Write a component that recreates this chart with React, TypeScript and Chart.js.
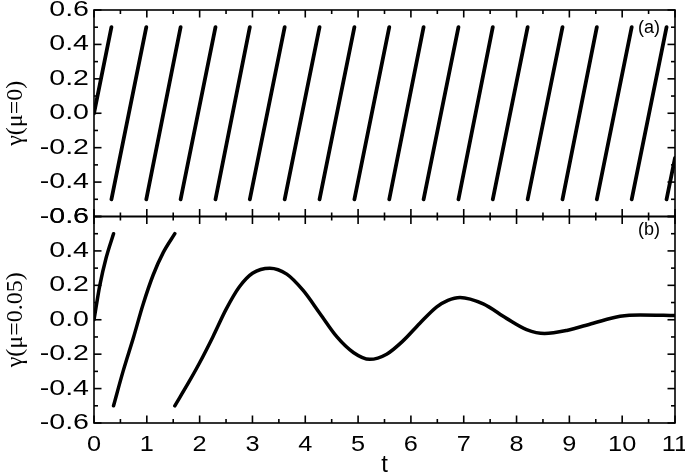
import React, { useEffect, useRef } from "react";
import Chart from "chart.js/auto";

// ejes
const X_MIN = 0;
const X_MAX = 11;
const Y_MIN = -0.6;
const Y_MAX = 0.6;
const xTickValues = [0, 1, 2, 3, 4, 5, 6, 7, 8, 9, 10, 11];
const yTickValues = [-0.6, -0.4, -0.2, 0, 0.2, 0.4, 0.6];

// panel (a): gamma(mu=0) sube linealmente y salta de +0.5 a -0.5 en estos t
const wrapTimesA = [0.33, 0.99, 1.64, 2.3, 2.95, 3.61, 4.27, 4.93, 5.59, 6.24, 6.9, 7.55, 8.21, 8.87, 9.52, 10.18, 10.84];
const startA = [0, 0]; // [t, gamma]
const endA = [11, -0.26];
const gammaLow = -0.5;
const gammaHigh = 0.5;

// panel (b): gamma(mu=0.05), tres ramas
const tB1 = [0, 0.11, 0.23, 0.37];
const gB1 = [0, 0.2, 0.36, 0.5];
const tB2 = [0.37, 0.55, 0.75, 0.93, 1.12, 1.31, 1.53];
const gB2 = [-0.5, -0.3, -0.1, 0.09, 0.26, 0.39, 0.5];
const tB3 = [1.53, 1.8, 2.0, 2.25, 2.5, 2.75, 3.0, 3.33, 3.65, 3.96, 4.28, 4.6, 4.91, 5.22, 5.54, 5.86, 6.17, 6.49, 6.7, 6.93, 7.37, 7.81, 8.19, 8.53, 8.95, 9.45, 9.96, 10.34, 11];
const gB3 = [-0.5, -0.36, -0.25, -0.1, 0.06, 0.19, 0.27, 0.3, 0.265, 0.17, 0.035, -0.1, -0.19, -0.23, -0.2, -0.12, -0.02, 0.075, 0.113, 0.13, 0.092, 0.008, -0.057, -0.08, -0.062, -0.02, 0.02, 0.028, 0.025];

type Pt = { x: number; y: number | null };

const branch = (ts: number[], gs: number[]): Pt[] => ts.map((t, i) => ({ x: t, y: gs[i] }));

const buildSeriesA = (): Pt[] => {
  const pts: Pt[] = [{ x: startA[0], y: startA[1] }];
  wrapTimesA.forEach((t) => {
    pts.push({ x: t, y: gammaHigh }, { x: t, y: null }, { x: t, y: gammaLow });
  });
  pts.push({ x: endA[0], y: endA[1] });
  return pts;
};

const buildSeriesB = (): Pt[] => [
  ...branch(tB1, gB1),
  { x: tB1[tB1.length - 1], y: null },
  ...branch(tB2, gB2),
  { x: tB2[tB2.length - 1], y: null },
  ...branch(tB3, gB3),
];

const midpoints = (vals: number[]) => vals.slice(1).map((v, i) => (v + vals[i]) / 2);

const fmtY = (v: number) => (Math.abs(v) < 1e-9 ? "0.0" : v.toFixed(1));

// texto ensanchado horizontalmente, como en la figura original
const wideText = (ctx: any, text: string, x: number, y: number, sx: number, align: string, baseline: string) => {
  ctx.save();
  ctx.translate(x, y);
  ctx.scale(sx, 1);
  ctx.textAlign = align;
  ctx.textBaseline = baseline;
  ctx.fillText(text, 0, 0);
  ctx.restore();
};

// marco de cada panel con marcas hacia dentro, etiquetas de los ejes
const framePlugin = {
  id: "frame",
  afterDatasetsDraw(chart: any) {
    const { ctx, chartArea, scales } = chart;
    const xs = scales.x;
    const MAJOR = 7.5;
    const MINOR = 4;
    ctx.save();
    ctx.strokeStyle = "#000";
    ctx.fillStyle = "#000";
    ctx.lineWidth = 1.6;
    const seg = (x1: number, y1: number, x2: number, y2: number) => {
      ctx.beginPath();
      ctx.moveTo(x1, y1);
      ctx.lineTo(x2, y2);
      ctx.stroke();
    };
    const panels = [
      { id: "yA", label: "(a)", dy: 18 },
      { id: "yB", label: "(b)", dy: 14 },
    ];
    panels.forEach(({ id, label, dy }) => {
      const ys = scales[id];
      const top = ys.top;
      const bottom = ys.bottom;
      const left = chartArea.left;
      const right = chartArea.right;
      ctx.strokeRect(left, top, right - left, bottom - top);
      xTickValues.forEach((v) => {
        const px = xs.getPixelForValue(v);
        seg(px, top, px, top + MAJOR);
        seg(px, bottom, px, bottom - MAJOR);
      });
      midpoints(xTickValues).forEach((v) => {
        const px = xs.getPixelForValue(v);
        seg(px, top, px, top + MINOR);
        seg(px, bottom, px, bottom - MINOR);
      });
      ctx.font = '22px "Liberation Sans"';
      yTickValues.forEach((v) => {
        const py = ys.getPixelForValue(v);
        seg(left, py, left + MAJOR, py);
        seg(right, py, right - MAJOR, py);
        wideText(ctx, fmtY(v), left - 5, py, 1.3, "right", "middle");
      });
      midpoints(yTickValues).forEach((v) => {
        const py = ys.getPixelForValue(v);
        seg(left, py, left + MINOR, py);
        seg(right, py, right - MINOR, py);
      });
      ctx.font = '18px "Liberation Sans"';
      ctx.textAlign = "right";
      ctx.textBaseline = "middle";
      ctx.fillText(label, 660, top + dy);
    });
    ctx.font = '22px "Liberation Sans"';
    xTickValues.forEach((v) => {
      const px = xs.getPixelForValue(v);
      wideText(ctx, String(v), px, chartArea.bottom + 28, 1.15, "center", "alphabetic");
    });
    ctx.restore();
  },
};

const yAxis = (title: string, weight: number) => ({
  type: "linear" as const,
  position: "left" as const,
  stack: "panels",
  stackWeight: 1,
  weight,
  min: Y_MIN,
  max: Y_MAX,
  offset: false,
  afterBuildTicks: (scale: any) => {
    scale.ticks = yTickValues.map((v) => ({ value: v }));
  },
  afterFit: (scale: any) => {
    scale.width = 94;
    scale.paddingTop = 0;
    scale.paddingBottom = 0;
  },
  grid: { display: false, drawTicks: false },
  border: { display: false },
  ticks: { display: false },
  title: {
    display: true,
    text: title,
    color: "#000",
    padding: { top: 1, bottom: 0 },
    font: { family: "Liberation Serif", size: 24 },
  },
});

const App: React.FC = () => {
  const canvasRef = useRef<HTMLCanvasElement>(null);
  const chartRef = useRef<Chart | null>(null);

  useEffect(() => {
    if (!canvasRef.current) return;
    if (chartRef.current) chartRef.current.destroy();

    chartRef.current = new Chart(canvasRef.current, {
      type: "line",
      data: {
        datasets: [
          {
            data: buildSeriesA() as any,
            yAxisID: "yA",
            borderColor: "#000",
            borderWidth: 3.8,
            borderCapStyle: "round",
            pointRadius: 0,
            tension: 0,
            spanGaps: false,
          },
          {
            data: buildSeriesB() as any,
            yAxisID: "yB",
            borderColor: "#000",
            borderWidth: 3.5,
            borderCapStyle: "round",
            pointRadius: 0,
            cubicInterpolationMode: "monotone",
            spanGaps: false,
          },
        ],
      },
      options: {
        animation: false,
        responsive: false,
        events: [],
        layout: { padding: { left: 0, right: 10, top: 10, bottom: 0 } },
        plugins: { legend: { display: false }, tooltip: { enabled: false } },
        scales: {
          x: {
            type: "linear",
            min: X_MIN,
            max: X_MAX,
            afterBuildTicks: (scale: any) => {
              scale.ticks = xTickValues.map((v) => ({ value: v }));
            },
            afterFit: (scale: any) => {
              scale.height = 52;
              scale.paddingLeft = 0;
              scale.paddingRight = 0;
            },
            grid: { display: false, drawTicks: false },
            border: { display: false },
            ticks: { display: false },
            title: {
              display: true,
              text: "t",
              color: "#000",
              padding: { top: 0, bottom: -5 },
              font: { family: "Liberation Sans", size: 24 },
            },
          },
          yB: yAxis("γ(μ=0.05)", 1),
          yA: yAxis("γ(μ=0)", 2),
        } as any,
      },
      plugins: [framePlugin],
    });

    return () => {
      if (chartRef.current) {
        chartRef.current.destroy();
        chartRef.current = null;
      }
    };
  }, []);

  return (
    <div style={{ position: "absolute", left: 0, top: 0, width: 685, height: 475, background: "#fff" }}>
      <canvas ref={canvasRef} width={685} height={475} style={{ display: "block" }} />
    </div>
  );
};

export default App;
